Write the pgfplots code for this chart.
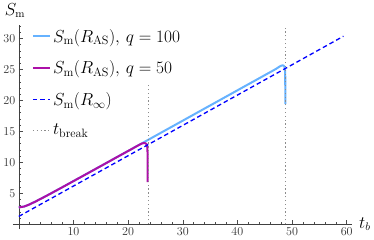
\documentclass[border=0pt]{standalone}
\usepackage{pgfplots}
\pgfplotsset{compat=1.18}
\definecolor{lblue}{RGB}{102,178,255}
\definecolor{purp}{RGB}{172,16,168}
\begin{document}
\begin{tikzpicture}
\begin{axis}[
  scale only axis, width=336pt, height=202pt,
  axis lines=middle,
  xmin=-1.07, xmax=60.9, ymin=-0.8, ymax=32.1,
  xtick={0,10,...,60}, xticklabels={,10,20,30,40,50,60},
  ytick={0,5,...,30}, yticklabels={,5,10,15,20,25,30},
  minor xtick={2,4,...,58}, minor ytick={1,2,...,32},
  tick align=inside,
  major tick length=4pt, minor tick length=2.5pt,
  axis line style={black!75, -},
  every tick/.style={black!70, line width=0.5pt},
  ticklabel style={font=\fontsize{12}{14}\selectfont, text=black!80},
  xlabel={$t_b$}, ylabel={$S_\mathrm{m}$},
  x label style={at={(axis cs:60.9,0)}, anchor=west, xshift=4pt, font=\fontsize{16}{18}\selectfont},
  y label style={at={(axis cs:-0.7,32.1)}, anchor=south, rotate=0, yshift=4pt, font=\fontsize{16}{18}\selectfont},
  legend style={at={(axis cs:1.8,32.2)}, anchor=north west, draw=none, fill=none,
    font=\fontsize{16.5}{19}\selectfont, row sep=13pt},
  legend cell align=left,
]
\addplot[lblue, line width=2pt, line join=round] coordinates {
(0,2.70) (1,2.85) (2,3.20) (3,3.63) (4,4.08) (5,4.55) (6,5.02) (8,5.98) (10,6.95)
(12,7.92) (15,9.38) (18,10.85) (20,11.82) (21,12.31) (22,12.80) (24,13.78) (28,15.74)
(32,17.70) (36,19.66) (40,21.62) (44,23.58) (46,24.56) (47,25.05) (47.6,25.40)
(48.0,25.60) (48.3,25.66) (48.55,25.55) (48.7,25.10) (48.75,24.30) (48.76,19.4)
};
\addlegendentry{$S_\mathrm{m}(R_\mathrm{AS}),\, q=100$}
\addplot[purp, line width=2pt, line join=round] coordinates {
(0,2.70) (1,2.85) (2,3.20) (3,3.63) (4,4.08) (5,4.55) (6,5.02) (8,5.98) (10,6.95)
(12,7.92) (15,9.38) (18,10.85) (20,11.82) (21,12.31) (22,12.80) (22.5,13.02)
(22.9,13.10) (23.2,13.06) (23.4,12.90) (23.52,12.40) (23.56,11.5) (23.57,6.8)
};
\addlegendentry{$S_\mathrm{m}(R_\mathrm{AS}),\, q=50$}
\addplot[blue, line width=1.3pt, dash pattern=on 4.5pt off 3pt] coordinates {
(0,1.25) (59.4,30.36)
};
\addlegendentry{$S_\mathrm{m}(R_\infty)$}
\addplot[black!45, line width=1pt, dash pattern=on 1.2pt off 2.6pt] coordinates {
(23.7,0) (23.7,22.8)
};
\addlegendentry{$t_\mathrm{break}$}
\addplot[black!45, line width=1pt, dash pattern=on 1.2pt off 2.6pt, forget plot] coordinates {
(48.85,0) (48.85,32.1)
};
\end{axis}
\end{tikzpicture}
\end{document}
